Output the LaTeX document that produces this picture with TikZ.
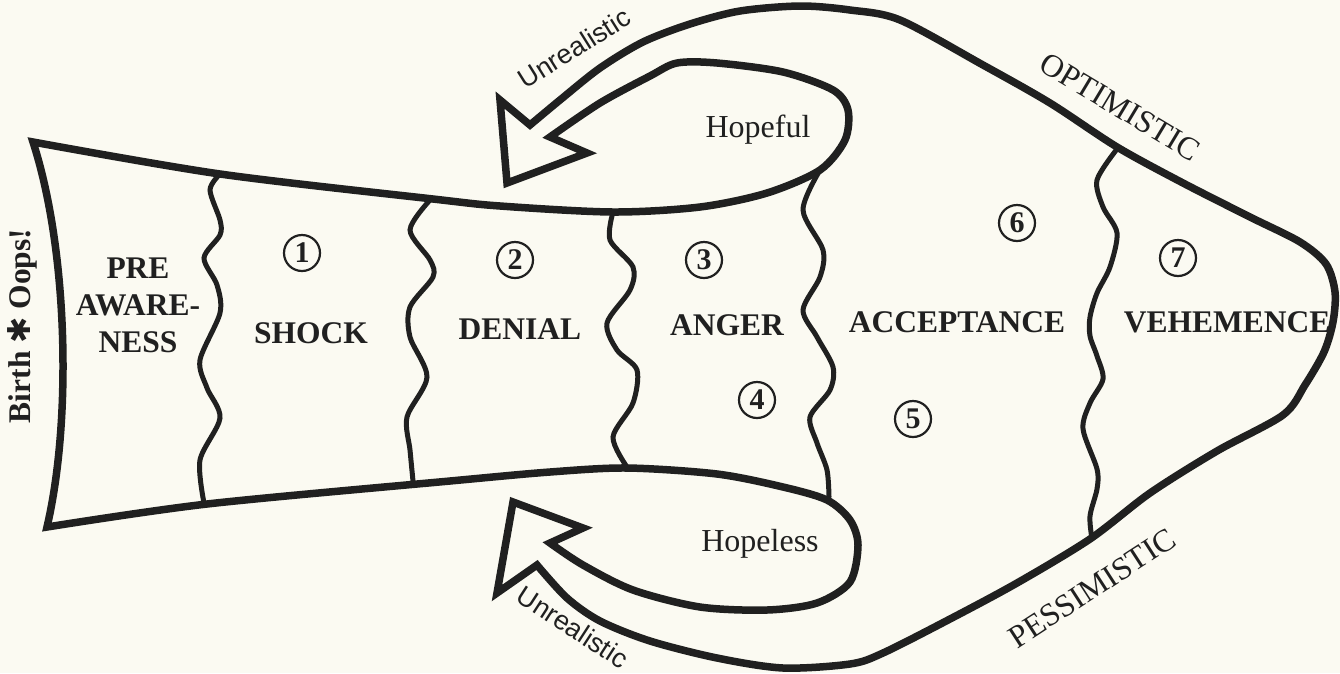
\documentclass[tikz,border=0pt]{standalone}
\usepackage{fontspec}
\setmainfont{Liberation Serif}
\newfontfamily\sansfont{Liberation Sans}
\newfontfamily\symfont{DejaVu Sans}
\definecolor{ink}{RGB}{32,32,32}
\definecolor{paper}{RGB}{251,250,242}

\begin{document}
\begin{tikzpicture}[x=1pt,y=-1pt,
    outline/.style={draw=ink, line width=7.5pt, line join=miter},
    wave/.style={draw=ink, line width=5pt, line cap=round},
    stage/.style={text=ink, inner sep=0pt, align=center,
        font=\fontsize{31.5}{37}\selectfont\bfseries},
    mood/.style={text=ink, inner sep=0pt, font=\fontsize{32}{37}\selectfont},
    slant/.style={text=ink, inner sep=0pt, font=\sansfont\fontsize{27}{30}\selectfont},
    num/.style={circle, draw=ink, line width=2.2pt, minimum size=36pt, inner sep=0pt,
        text=ink, font=\fontsize{30}{30}\selectfont\bfseries}]
    \fill[paper] (0,0) rectangle (1340,673);
    \useasboundingbox (0,0) rectangle (1340,673);

    % Draw the body with both return arrows as one outline
    \draw[outline] (47,527) .. controls (72,420) and (68,250) .. (33,142)
        -- plot[smooth] coordinates {(33,142) (220,174) (433,199) (500,206) (613,212) (700,207)
            (767,193) (820,170) (845,140) (848,110) (833,90) (783,72) (717,63) (677,63) (650,76)
            (600,103) (550,137)}
        -- (587,153) -- (507,183) -- (500,100) -- (530,125)
        -- plot[smooth] coordinates {(530,125) (560,100) (600,68) (643,42) (690,24) (740,11)
            (800,6) (850,10) (900,20) (983,65) (1050,103) (1117,147) (1183,183) (1250,217)
            (1300,242) (1326,264) (1335,292) (1333,322) (1324,352) (1305,385) (1283,415)
            (1217,451) (1150,493) (1090,539) (1017,583) (950,619) (883,653) (850,664) (783,668)
            (717,658) (650,641) (600,621) (567,598) (537,565)}
        -- (497,593) -- (513,502) -- (583,528) -- (550,543)
        -- plot[smooth] coordinates {(550,543) (583,565) (633,590) (700,607) (767,610) (817,603)
            (850,582) (858,545) (850,520) (827,500) (783,487) (717,474) (627,468) (550,472)
            (450,481) (207,504) (47,527)}
        -- cycle;

    % Wavy borders between the stages
    \draw[wave] plot[smooth] coordinates {(220,174) (210,190) (220,220) (220,235) (204,258)
        (217,285) (220,313) (200,360) (207,388) (220,418) (200,460) (204,503)};
    \draw[wave] plot[smooth] coordinates {(430,200) (410,230) (430,260) (433,277) (410,307)
        (410,337) (427,377) (407,417) (410,450) (413,481)};
    \draw[wave] plot[smooth] coordinates {(613,212) (610,240) (633,267) (630,290) (607,323)
        (617,350) (637,370) (633,403) (613,437) (627,467)};
    \draw[wave] plot[smooth] coordinates {(820,170) (803,210) (823,250) (820,277) (803,310)
        (817,337) (833,367) (830,390) (810,417) (817,443) (827,470) (829,497)};
    \draw[wave] plot[smooth] coordinates {(1117,149) (1097,180) (1103,207) (1117,233) (1110,267)
        (1097,293) (1090,317) (1090,336) (1097,356) (1103,379) (1090,403) (1083,429) (1097,469)
        (1097,489) (1090,516) (1092,539)};

    % Stage names
    \node[stage, rotate=90] (birth) at (22,326) {Birth {\symfont\bfseries ✱} Oops!};
    \node[stage] (pre) at (138,305) {PRE\\AWARE-\\NESS};
    \node[stage] (shock) at (311,333) {SHOCK};
    \node[stage] (denial) at (520,329) {DENIAL};
    \node[stage] (anger) at (727,325) {ANGER};
    \node[stage] (accept) at (957,322) {ACCEPTANCE};
    \node[stage] (vehem) at (1227,322) {VEHEMENCE};

    % Circled numbers
    \node[num] (n1) at (302,253) {1};
    \node[num] (n2) at (515,260) {2};
    \node[num] (n3) at (704,260) {3};
    \node[num] (n4) at (757,400) {4};
    \node[num] (n5) at (913,419) {5};
    \node[num] (n6) at (1017,223) {6};
    \node[num] (n7) at (1178,258) {7};

    % Moods and edge labels
    \node[mood] (hopeful) at (758,130) {Hopeful};
    \node[mood] (hopeless) at (760,544) {Hopeless};
    \node[mood, rotate=-31] (optim) at (1120,107) {OPTIMISTIC};
    \node[mood, rotate=33] (pessim) at (1092,588) {PESSIMISTIC};
    \node[slant, rotate=32] (unreal1) at (574,48) {Unrealistic};
    \node[slant, rotate=-33] (unreal2) at (573,627) {Unrealistic};
\end{tikzpicture}
\end{document}
